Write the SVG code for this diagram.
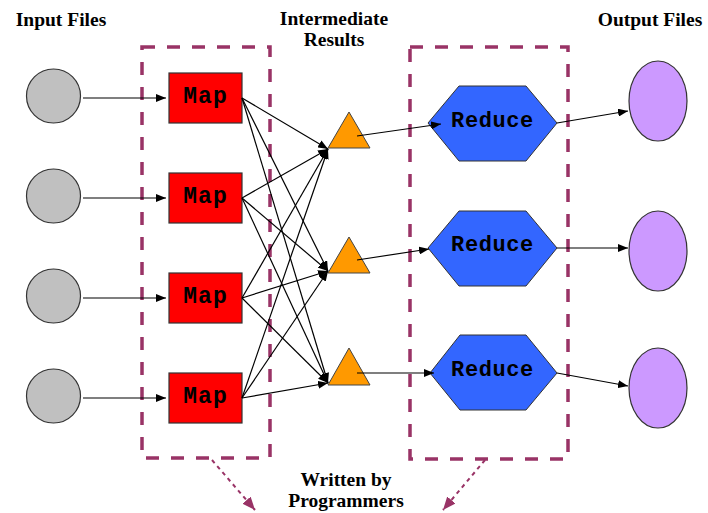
<svg xmlns="http://www.w3.org/2000/svg" width="708" height="513" viewBox="0 0 708 513">
<style>
.lbl{font-family:"Liberation Serif","Times New Roman",serif;font-size:19.5px;font-weight:bold;fill:#000;text-anchor:middle}
.mono{font-family:"Liberation Mono","Courier New",monospace;font-weight:bold;fill:#000;text-anchor:middle}
.in{fill:#c0c0c0;stroke:#333;stroke-width:1.2}
.map{fill:#ff0000;stroke:#333;stroke-width:1.2}
.tri{fill:#ff9900;stroke:#444;stroke-width:1}
.red{fill:#3366ff;stroke:#333;stroke-width:1}
.out{fill:#cc99ff;stroke:#333;stroke-width:1.2}
.box{fill:none;stroke:#993366;stroke-width:3.5;stroke-dasharray:13 12}
.edge{fill:none;stroke:#000;stroke-width:1.2;marker-end:url(#ah)}
.dot{fill:none;stroke:#993366;stroke-width:2;stroke-dasharray:4 4;marker-end:url(#ph)}
</style>
<defs>
<marker id="ah" viewBox="0 0 10 8" refX="10" refY="4" markerWidth="10" markerHeight="8" markerUnits="userSpaceOnUse" orient="auto">
<path d="M0,0 L10,4 L0,8 Z" fill="#000"/>
</marker>
<marker id="ph" viewBox="0 0 12 10" refX="12" refY="5" markerWidth="13" markerHeight="11" markerUnits="userSpaceOnUse" orient="auto">
<path d="M0,0 L12,5 L0,10 Z" fill="#993366"/>
</marker>
</defs>
<rect width="708" height="513" fill="#fff"/>

<g id="labels">
<text class="lbl" x="61" y="26">Input Files</text>
<text class="lbl" x="334" y="25">Intermediate</text>
<text class="lbl" x="334" y="46">Results</text>
<text class="lbl" x="650" y="26">Output Files</text>
<text class="lbl" x="346" y="486">Written by</text>
<text class="lbl" x="346" y="507">Programmers</text>
</g>

<g id="boxes">
<rect id="mapBox" class="box" x="142" y="47" width="128" height="411"/>
<rect id="reduceBox" class="box" x="410" y="47" width="158" height="412"/>
</g>

<g id="in1"><circle class="in" cx="53.5" cy="96" r="27"/></g>
<g id="in2"><circle class="in" cx="53.5" cy="196" r="27"/></g>
<g id="in3"><circle class="in" cx="53.5" cy="296" r="27"/></g>
<g id="in4"><circle class="in" cx="53.5" cy="396" r="27"/></g>

<g id="map1"><rect class="map" x="169" y="73" width="73" height="50"/><text class="mono" x="205.5" y="103" font-size="23" letter-spacing="1">Map</text></g>
<g id="map2"><rect class="map" x="169" y="173" width="73" height="50"/><text class="mono" x="205.5" y="203" font-size="23" letter-spacing="1">Map</text></g>
<g id="map3"><rect class="map" x="169" y="273" width="73" height="50"/><text class="mono" x="205.5" y="303" font-size="23" letter-spacing="1">Map</text></g>
<g id="map4"><rect class="map" x="169" y="373" width="73" height="50"/><text class="mono" x="205.5" y="403" font-size="23" letter-spacing="1">Map</text></g>

<g id="tri1"><polygon class="tri" points="349,112 328,148 370,148"/></g>
<g id="tri2"><polygon class="tri" points="349,237 328,273 370,273"/></g>
<g id="tri3"><polygon class="tri" points="349,348 328,385 370,385"/></g>

<g id="red1"><polygon class="red" points="428,123 459,86 526,86 557,123 526,161 459,161"/><text class="mono" x="492.5" y="127" font-size="22" letter-spacing="0.6">Reduce</text></g>
<g id="red2"><polygon class="red" points="428,248 459,211 526,211 557,248 526,286 459,286"/><text class="mono" x="492.5" y="251" font-size="22" letter-spacing="0.6">Reduce</text></g>
<g id="red3"><polygon class="red" points="430,373 460,335 526,335 557,373 526,410 460,410"/><text class="mono" x="492.5" y="376" font-size="22" letter-spacing="0.6">Reduce</text></g>

<g id="out1"><ellipse class="out" cx="658" cy="101" rx="29" ry="40"/></g>
<g id="out2"><ellipse class="out" cx="658" cy="251" rx="29" ry="40"/></g>
<g id="out3"><ellipse class="out" cx="658" cy="388" rx="29" ry="40"/></g>

<g id="connectors">
<line class="edge" x1="83" y1="98" x2="166" y2="98"/>
<line class="edge" x1="83" y1="198" x2="166" y2="198"/>
<line class="edge" x1="83" y1="298" x2="166" y2="298"/>
<line class="edge" x1="83" y1="398" x2="166" y2="398"/>

<line class="edge" x1="242" y1="98" x2="328" y2="149"/>
<line class="edge" x1="242" y1="98" x2="328" y2="271"/>
<line class="edge" x1="242" y1="98" x2="328" y2="383"/>
<line class="edge" x1="242" y1="198" x2="328" y2="149"/>
<line class="edge" x1="242" y1="198" x2="328" y2="271"/>
<line class="edge" x1="242" y1="198" x2="328" y2="383"/>
<line class="edge" x1="242" y1="298" x2="328" y2="149"/>
<line class="edge" x1="242" y1="298" x2="328" y2="271"/>
<line class="edge" x1="242" y1="298" x2="328" y2="383"/>
<line class="edge" x1="242" y1="398" x2="328" y2="149"/>
<line class="edge" x1="242" y1="398" x2="328" y2="271"/>
<line class="edge" x1="242" y1="398" x2="328" y2="383"/>

<line class="edge" x1="357" y1="136" x2="441" y2="124"/>
<line class="edge" x1="357" y1="260" x2="429" y2="249"/>
<line class="edge" x1="357" y1="373" x2="434" y2="373"/>

<line class="edge" x1="557" y1="123" x2="628" y2="111"/>
<line class="edge" x1="557" y1="248" x2="628" y2="248"/>
<line class="edge" x1="557" y1="373" x2="628" y2="386"/>

<line class="dot" x1="212" y1="460" x2="255" y2="510"/>
<line class="dot" x1="485" y1="460" x2="443" y2="510"/>
</g>
</svg>
